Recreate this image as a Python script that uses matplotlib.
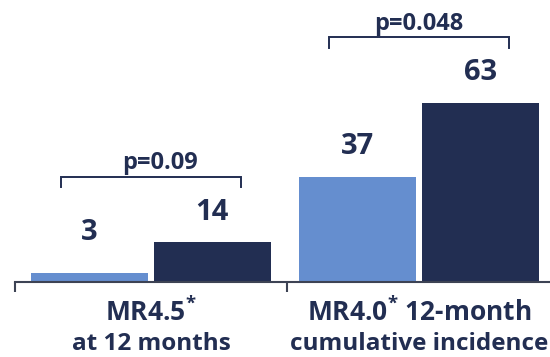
import matplotlib
matplotlib.use("Agg")
import matplotlib.pyplot as plt
import matplotlib.transforms as mtransforms

plt.rcParams['font.family'] = ['Open Sans', 'DejaVu Sans']
plt.rcParams['mathtext.fontset'] = 'custom'
plt.rcParams['mathtext.rm'] = 'Open Sans:bold'
plt.rcParams['mathtext.it'] = 'Open Sans:bold'
plt.rcParams['mathtext.bf'] = 'Open Sans:bold'

# response rates (%), two arms per endpoint
label_line1 = [r"$\text{MR4.5}^{*}$", r"$\text{MR4.0}^{*}\text{ 12-month}$"]
label_line2 = ["at 12 months", "cumulative incidence"]
arm_a = [3, 37]
arm_b = [14, 63]
p_values = ["p=0.09", "p=0.048"]

LIGHT = "#658ecf"
DARK = "#222e52"
TEXT = "#222e52"
AXIS = "#3d4354"

fig = plt.figure(figsize=(5.5, 3.57), dpi=100)
# axes run past the right edge of the figure
ax = fig.add_axes([15 / 550, 75.3 / 357, 565 / 550, 281.7 / 357])

width = 0.437
offset = 0.229
xs = list(range(len(arm_a)))

ax.bar([x - offset for x in xs], arm_a, width=width, color=LIGHT)
ax.bar([x + offset for x in xs], arm_b, width=width, color=DARK)

# value labels above bars
for x, a, b in zip(xs, arm_a, arm_b):
    for xx, v in ((x - offset, a), (x + offset, b)):
        ax.text(xx, max(v, 6.8) + 10.5, str(v), ha='center', va='center',
                fontsize=21, fontweight='bold', color=TEXT)

# significance brackets
p_shift = [0.033, 0.0]
for x, a, b, p, s in zip(xs, arm_a, arm_b, p_values, p_shift):
    top = max(a, b) + 23
    ax.plot([x - 0.335, x - 0.335, x + 0.335, x + 0.335],
            [top - 3.6, top, top, top - 3.6], color=TEXT, lw=1.4,
            solid_joinstyle='miter', clip_on=False)
    ax.text(x + s, top + 2.6, p, ha='center', va='baseline', fontsize=17,
            fontweight='bold', color=TEXT)

ax.set_xlim(-0.507, 1.6)
ax.set_ylim(0, 99.2)
for side in ('top', 'right', 'left'):
    ax.spines[side].set_visible(False)
ax.spines['bottom'].set_color(AXIS)
ax.spines['bottom'].set_linewidth(1.5)
ax.set_yticks([])
ax.set_xticks([-0.507, 0.507, 1.521])
ax.set_xticklabels([])
ax.tick_params(axis='x', direction='out', length=7.5, width=1.5, color=AXIS)

# two-line category labels under the axis
trans = mtransforms.blended_transform_factory(ax.transData, ax.transAxes)
for x, l1, l2 in zip(xs, label_line1, label_line2):
    ax.annotate(l1, xy=(x, 0), xycoords=trans, xytext=(0, -28.5),
                textcoords='offset points', ha='center', va='baseline',
                fontsize=19, fontweight='bold', color=TEXT,
                annotation_clip=False)
    ax.annotate(l2, xy=(x, 0), xycoords=trans, xytext=(0, -49.5),
                textcoords='offset points', ha='center', va='baseline',
                fontsize=17.5, fontweight='bold', color=TEXT,
                annotation_clip=False)

fig.savefig("out.png", dpi=100)
